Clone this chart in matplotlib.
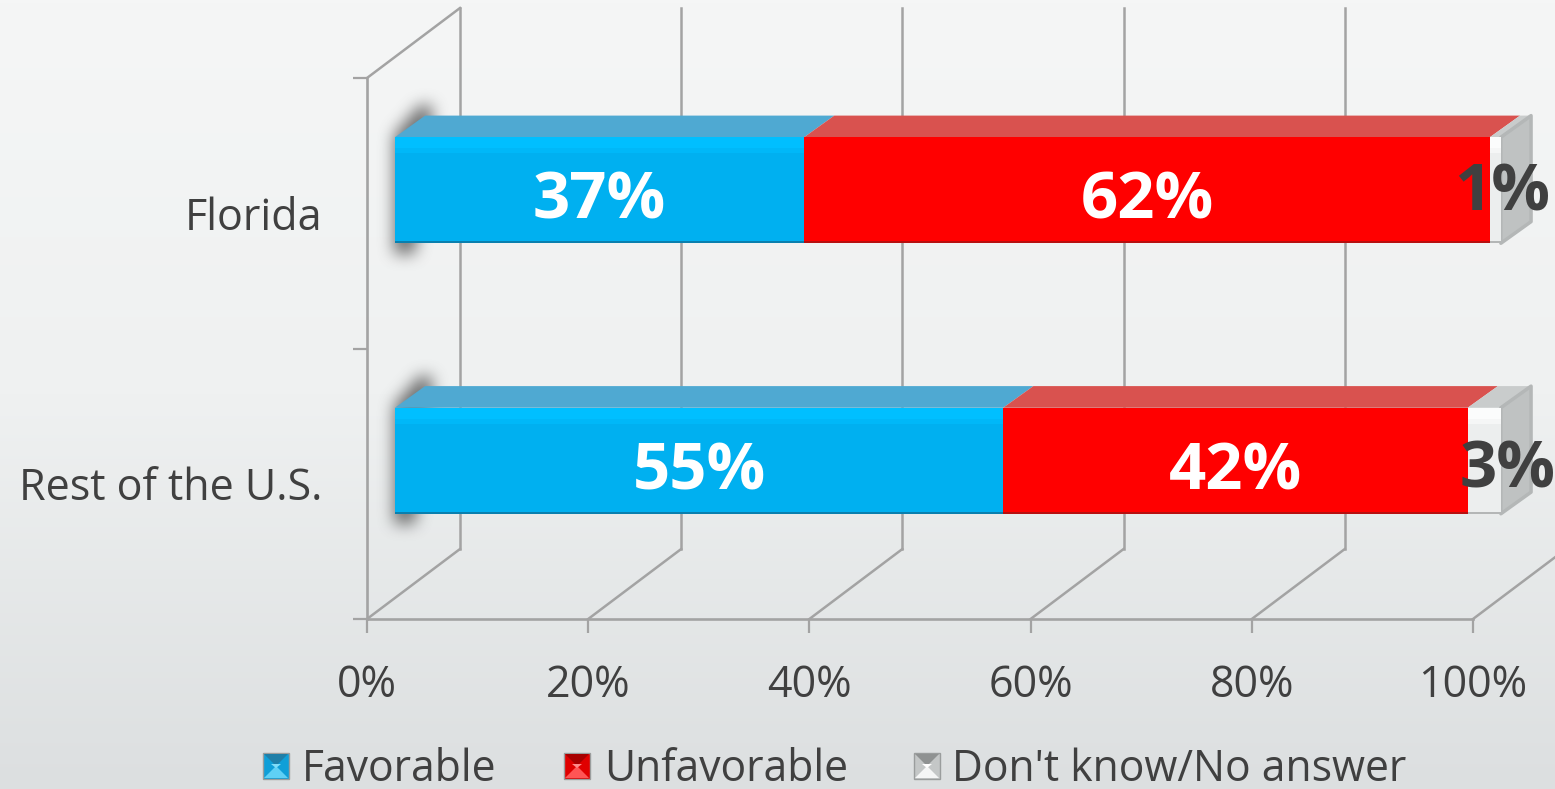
import numpy as np
import matplotlib
matplotlib.use("Agg")
import matplotlib.pyplot as plt
from matplotlib.patches import Polygon
from matplotlib.path import Path

plt.rcParams['font.family'] = ['Open Sans', 'DejaVu Sans']

# === Data ===
categories = ["Rest of the U.S.", "Florida"]
series_names = ["Favorable", "Unfavorable", "Don't know/No answer"]
favorable = [55, 37]
unfavorable = [42, 62]
dont_know = [3, 1]
x_ticks = [0, 20, 40, 60, 80, 100]

front_colors = ['#00b0f0', '#ff0000', '#eceeee']
shine_colors = ['#00bfff', '#ff0000', '#fbfcfc']
shine2_colors = ['#00b8f8', '#ff0000', '#f5f6f6']
edge_colors = ['#0a7fae', '#b80f0f', '#b4b6b6']
top_colors = ['#4fa9d2', '#d9524f', '#c9cccc']
label_colors = ['white', 'white', '#404040']
text_color = '#404040'
line_color = '#a3a3a3'

W, H = 1555, 789
fig = plt.figure(figsize=(W / 100, H / 100), dpi=100)

# === Background gradient ===
bg = fig.add_axes([0, 0, 1, 1], zorder=0)
bg.imshow(np.linspace(0, 1, 256).reshape(-1, 1), aspect='auto', cmap=matplotlib.colors.LinearSegmentedColormap.from_list(
    'bg', ['#f5f6f6', '#eff1f1', '#dcdfe0']), extent=(0, W, H, 0))
bg.axis('off')

# === Main axes: front plane of the 3D box ===
ax = fig.add_axes([367 / W, 1 - 619 / H, (1473 - 367) / W, (619 - 78) / H], zorder=1)
ax.patch.set_alpha(0)
ax.set_xlim(0, 100)
ax.set_ylim(-0.5, 1.5)

DX, DY = 8.41, 0.2588            # depth of the box in data units
BAR_HALF = 0.196
FRONT_X, FRONT_Y = 2.52, 0.085   # bar front face offset from the front plane
BACK_X, BACK_Y = 5.25, 0.165     # bar back face offset

ys = np.arange(len(categories))


# === Blur a polygon mask, used for the shadow behind the bars ===
def blurred_mask(points, size=15, passes=3):
    gx, gy = np.meshgrid(np.arange(W) + 0.5, np.arange(H) + 0.5)
    grid = np.column_stack([gx.ravel(), gy.ravel()])
    mask = Path(points).contains_points(grid).reshape(H, W).astype(float)
    kernel = np.ones(size) / size
    for _ in range(passes):
        mask = np.apply_along_axis(np.convolve, 0, mask, kernel, mode='same')
        mask = np.apply_along_axis(np.convolve, 1, mask, kernel, mode='same')
    return mask


# walls and floor
for t in x_ticks:
    ax.plot([t, t + DX], [-0.5, -0.5 + DY], color=line_color, lw=1.8, clip_on=False, zorder=1)
    ax.plot([t + DX, t + DX], [-0.5 + DY, 1.5 + DY], color=line_color, lw=1.8, clip_on=False, zorder=1)
ax.plot([0, DX], [1.5, 1.5 + DY], color=line_color, lw=1.8, clip_on=False, zorder=1)

# soft shadow on the left side of each bar
shadow = np.zeros((H, W))
for y in ys:
    outline = [(2.4, y - 0.15), (2.4, y + 0.288), (4.79, y + 0.40),
               (5.9, y + 0.40), (5.9, y + 0.325), (4.34, y - 0.15)]
    px = ax.transData.transform(outline)
    px[:, 1] = H - px[:, 1]
    shadow += blurred_mask(px)
rgba = np.zeros((H, W, 4))
rgba[..., :3] = 0.3
rgba[..., 3] = shadow * 0.8
bg.imshow(rgba, aspect='auto', extent=(0, W, H, 0), interpolation='nearest')
bg.set_xlim(0, W)
bg.set_ylim(H, 0)

# stacked 3D bars
lefts = np.zeros(len(categories))
for i, values in enumerate([favorable, unfavorable, dont_know]):
    values = np.array(values, dtype=float)
    for y, left, v in zip(ys, lefts, values):
        x0, x1 = left, left + v
        # top face
        ax.add_patch(Polygon([(x0 + FRONT_X, y + FRONT_Y + BAR_HALF), (x1 + FRONT_X, y + FRONT_Y + BAR_HALF),
                              (x1 + BACK_X, y + BACK_Y + BAR_HALF), (x0 + BACK_X, y + BACK_Y + BAR_HALF)],
                             fc=top_colors[i], ec='none', clip_on=False, zorder=3))
        # right end of the stack
        if i == 2:
            ax.add_patch(Polygon([(x1 + FRONT_X, y + FRONT_Y - BAR_HALF), (x1 + FRONT_X, y + FRONT_Y + BAR_HALF),
                                  (x1 + BACK_X, y + BACK_Y + BAR_HALF), (x1 + BACK_X, y + BACK_Y - BAR_HALF)],
                                 fc='#bfc2c2', ec='#b4b7b7', lw=2.5, joinstyle='round', clip_on=False, zorder=3))
    y_front = ys + FRONT_Y
    ax.barh(y_front, values, height=2 * BAR_HALF, left=lefts + FRONT_X, color=front_colors[i],
            clip_on=False, zorder=4, label=series_names[i])
    # lighter bands at the top and dark line at the bottom
    ax.barh(y_front + BAR_HALF - 0.03, values, height=0.06, left=lefts + FRONT_X, color=shine2_colors[i],
            clip_on=False, zorder=5)
    ax.barh(y_front + BAR_HALF - 0.02, values, height=0.04, left=lefts + FRONT_X, color=shine_colors[i],
            clip_on=False, zorder=5)
    ax.barh(y_front - BAR_HALF + 0.004, values, height=0.008, left=lefts + FRONT_X, color=edge_colors[i],
            clip_on=False, zorder=5)
    # data labels, the small grey ones sit further right in the original
    for row, (y, left, v) in enumerate(zip(y_front, lefts, values)):
        shift_x = [23, 7][row] if i == 2 else 0
        shift_y = [-10, -4][row] if i == 2 else -12
        ax.annotate(f"{int(v)}%", (left + v / 2 + FRONT_X, y), xytext=(shift_x, shift_y), textcoords='offset pixels',
                    ha='center', va='center', fontsize=47, fontweight='bold', color=label_colors[i],
                    annotation_clip=False, zorder=6)
    lefts = lefts + values

# axes, ticks and labels
for side in ['top', 'right']:
    ax.spines[side].set_visible(False)
for side in ['left', 'bottom']:
    ax.spines[side].set_color(line_color)
    ax.spines[side].set_linewidth(1.9)
ax.set_xticks(x_ticks)
ax.set_xticklabels([f"{t}%" for t in x_ticks], fontsize=31, color=text_color)
ax.tick_params(axis='x', length=10, width=1.6, color=line_color, pad=22)
ax.set_yticks([-0.5, 0.5, 1.5], minor=True)
ax.set_yticks(ys)
ax.set_yticklabels(categories, fontsize=31, color=text_color)
ax.tick_params(axis='y', which='major', length=0, pad=32)
ax.tick_params(axis='y', which='minor', length=10, width=1.6, color=line_color)

# === Legend with bevelled swatches (pixel coordinates) ===
ov = fig.add_axes([0, 0, 1, 1], zorder=2)
ov.set_xlim(0, W)
ov.set_ylim(H, 0)
ov.axis('off')
swatch_x = [263, 564, 914]
text_x = [302, 604, 952]
swatch_side = ['#0f9fd8', '#e00000', '#c4c7c7']
swatch_top = ['#1f7fa8', '#a80000', '#8f9292']
swatch_bottom = ['#5fd0f5', '#ff5555', '#f5f6f6']
swatch_mid = ['#7fdcf8', '#ff8a8a', '#ffffff']
for i, name in enumerate(series_names):
    x, y, s = swatch_x[i], 753, 26
    c = (x + s / 2, y + s / 2)
    ov.add_patch(Polygon([(x, y), (x + s, y), (x + s, y + s), (x, y + s)], fc=swatch_side[i], ec='#9a9d9d', lw=1))
    ov.add_patch(Polygon([(x + 1, y + 1), (x + s - 1, y + 1), c], fc=swatch_top[i], ec='none'))
    ov.add_patch(Polygon([(x + 1, y + s - 1), (x + s - 1, y + s - 1), c], fc=swatch_bottom[i], ec='none'))
    ov.add_patch(Polygon([(c[0] - 5, c[1] - 2), (c[0] + 5, c[1] - 2), (c[0], c[1] + 2)], fc=swatch_mid[i], ec='none'))
    ov.text(text_x[i], 781, name, fontsize=30.7, color=text_color, va='baseline', ha='left')

fig.savefig("out.png", dpi=100)
